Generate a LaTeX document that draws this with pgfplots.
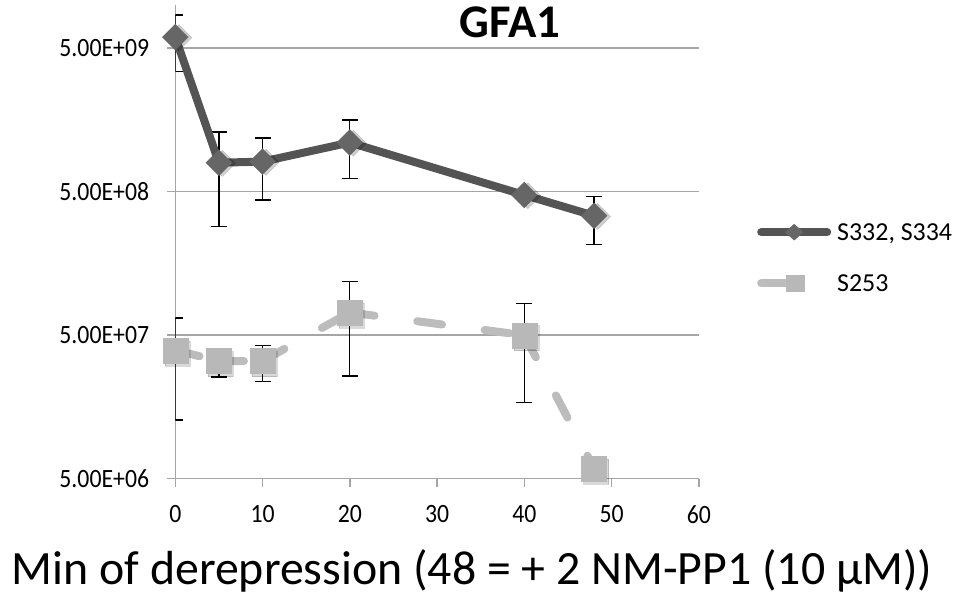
\documentclass[border=0pt]{standalone}
\usepackage{pgfplots}
\pgfplotsset{compat=1.18}
\usepackage{pgfplotstable}
\usepackage{fontspec}
\setmainfont{Carlito}
\newfontfamily\tickfont{Carlito}[FakeStretch=0.9]
\definecolor{darkline}{HTML}{545454}
\definecolor{darkmark}{HTML}{666666}
\definecolor{lightline}{HTML}{BCBCBC}
\definecolor{lightmark}{HTML}{B8B8B8}
\definecolor{gridgray}{HTML}{A6A6A6}

\pgfplotstableread{
x y e
0 5.97e9 2.52e9
5 7.96e8 5.1e8
10 8.1e8 3.72e8
20 1.10e9 4.82e8
40 4.74e8 0
48 3.4e8 1.25e8
}\serA
\pgfplotstableread{
x y e
0 3.93e7 2.65e7
5 3.3e7 7.5e6
10 3.3e7 9.2e6
20 7.2e7 4.6e7
40 5.0e7 3.3e7
48 5.9e6 0
}\serB

\begin{document}
\begin{tikzpicture}
\useasboundingbox (-175.3bp,-117.3bp) rectangle (783.7bp,478.7bp);
\begin{axis}[
  at={(0,0)}, anchor=south west,
  scale only axis, width=523.5bp, height=473.7bp,
  ymode=log, xmin=0, xmax=60, ymin=5e6, ymax=1e10,
  axis lines=left,
  axis line style={gridgray, line width=1.5bp, -},
  xtick={0,10,...,60},
  ytick={5e6,5e7,5e8,5e9},
  yticklabels={5.00E+06,5.00E+07,5.00E+08,5.00E+09},
  yminorticks=false, xminorticks=false,
  tick align=outside, major tick length=8bp,
  tick style={gridgray, line width=1.5bp},
  ymajorgrids, grid style={gridgray, line width=1.5bp},
  ticklabel style={font=\tickfont\fontsize{26.5}{30}\selectfont},
  yticklabel style={anchor=east, inner sep=0pt, xshift=-18bp},
  xticklabel style={anchor=north, inner sep=0pt, yshift=-19bp},
  /pgf/number format/assume math mode=true,
  xlabel={Min of derepression (48 = + 2 NM-PP1 (10 μM))},
  xlabel style={font=\fontsize{48}{56}\selectfont, at={(axis description cs:0.567,0)}, anchor=base, yshift=-106bp},
  title={GFA1},
  title style={font=\bfseries\fontsize{47}{52}\selectfont, at={(axis description cs:0.639,0.918)}, anchor=base},
  legend style={at={(axis description cs:1.1112,0.5419)}, anchor=north west, draw=none, fill=none,
    inner sep=0pt, row sep=31bp, column sep=6bp, font=\fontsize{26}{30}\selectfont,
    nodes={inner sep=0pt, text height=18.2bp, text depth=1.8bp}},
  legend cell align=left,
]
% error bars (behind everything)
\addplot[forget plot, black, only marks, mark=none,
  error bars/.cd, y dir=both, y explicit, error mark=-,
  error bar style={draw=black, line width=1.4bp, solid},
  error mark options={rotate=90, draw=black, line width=1.4bp, mark size=8bp, solid}]
  table[x=x, y=y, y error=e] {\serA};
\addplot[forget plot, black, only marks, mark=none,
  error bars/.cd, y dir=both, y explicit, error mark=-,
  error bar style={draw=black, line width=1.4bp, solid},
  error mark options={rotate=90, draw=black, line width=1.4bp, mark size=8bp, solid}]
  table[x=x, y=y, y error=e] {\serB};
% series S332, S334
\addplot[forget plot, darkline, line width=8bp, line join=round, line cap=round]
  table[x=x, y=y] {\serA};
\addplot[forget plot, only marks, mark=square*, mark size=9.2bp,
  mark options={rotate=45, xshift=2bp, yshift=-3bp, fill=black, draw=none, opacity=0.18}]
  table[x=x, y=y] {\serA};
\addplot[forget plot, only marks, mark=square*, mark size=9.2bp,
  mark options={rotate=45, fill=darkmark, draw=darkmark, line width=0.2bp, solid}]
  table[x=x, y=y] {\serA};
% series S253 (dash pattern restarts on each segment)
\addplot[forget plot, lightline, line width=8bp, line cap=round, dash pattern=on 25bp off 43bp,
  unbounded coords=jump]
  coordinates {(0,3.93e7) (5,3.3e7) (5,nan) (5,3.3e7) (10,3.3e7) (10,nan) (10,3.3e7) (20,7.2e7)
   (20,nan) (20,7.2e7) (40,5.0e7) (40,nan) (40,5.0e7) (48,5.9e6)};
\addplot[forget plot, only marks, mark=square*, mark size=12.5bp,
  mark options={xshift=2bp, yshift=-3bp, fill=black, draw=none, opacity=0.15}]
  table[x=x, y=y] {\serB};
\addplot[forget plot, lightmark, only marks, mark=square*, mark size=12.5bp,
  mark options={fill=lightmark, draw=lightmark, line width=0.2bp, solid}]
  table[x=x, y=y] {\serB};
% legend
\addlegendimage{legend image code/.code={
  \path[draw=none, fill=none] (0bp,-10bp) rectangle (74bp,10bp);
  \draw[darkline, line width=8bp, line cap=round] (4bp,0bp) -- (70bp,0bp);
  \fill[darkmark] (37bp,8bp) -- (46bp,0bp) -- (37bp,-8bp) -- (28bp,0bp) -- cycle;
}}
\addlegendentry{S332, S334}
\addlegendimage{legend image code/.code={
  \path[draw=none, fill=none] (0bp,-10bp) rectangle (74bp,10bp);
  \draw[lightline, line width=8bp, line cap=round] (4bp,0bp) -- (33bp,0bp);
  \fill[lightmark] (29bp,-8bp) rectangle (47bp,8bp);
}}
\addlegendentry{S253}
\end{axis}
\end{tikzpicture}
\end{document}
